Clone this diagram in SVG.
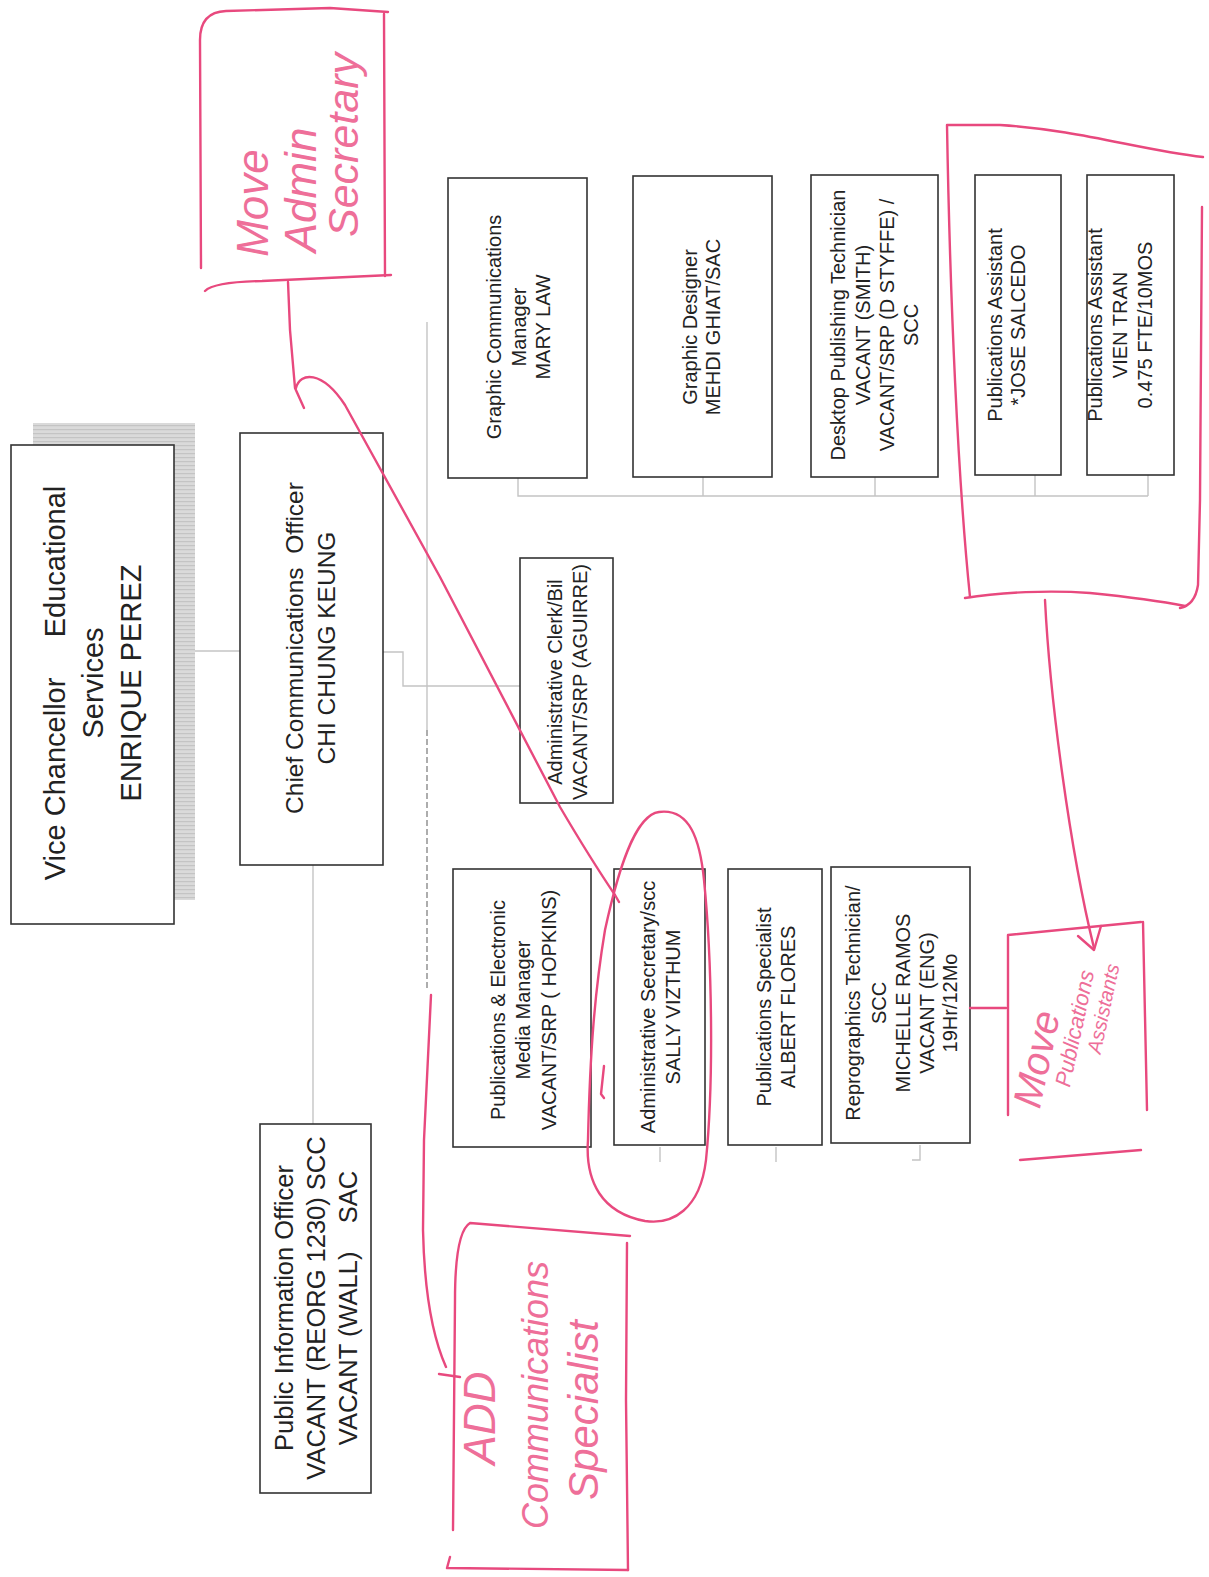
<svg xmlns="http://www.w3.org/2000/svg" width="1209" height="1577" viewBox="0 0 1209 1577">
<defs>
<pattern id="hatch" width="6" height="4" patternUnits="userSpaceOnUse">
<rect width="6" height="4" fill="#dadada"/>
<rect y="1" width="6" height="1.2" fill="#c4c4c4"/>
</pattern>
<style>
.box{fill:#fff;stroke:#333;stroke-width:1.6}
.t{font-family:"Liberation Sans",Arial,sans-serif;fill:#222;text-anchor:middle}
.con{fill:none;stroke:#c4c4c4;stroke-width:1.4}
.dash{fill:none;stroke:#777;stroke-width:1.2;stroke-dasharray:6 3}
.pk{fill:none;stroke:#e8497e;stroke-width:2.4;stroke-linecap:round;stroke-linejoin:round}
.hw{font-family:"Liberation Sans",Arial,sans-serif;font-style:italic;fill:#ee6f99;text-anchor:middle}
</style>
</defs>
<rect width="1209" height="1577" fill="#fff"/>

<g id="connectors">
<path class="con" d="M176,651 H240"/>
<path class="con" d="M383,652 H403 V686 H520"/>
<path class="con" d="M427,322 V730"/>
<path class="dash" d="M427,730 V990"/>
<path class="con" d="M313,865 V1124"/>
<path class="con" d="M518,478 V496 H1148 M703,477 V496 M875,477 V496 M1035,475 V496 M1148,475 V496"/>
<path class="con" d="M660,1147 V1162 M776,1147 V1162 M920,1145 V1160 H912"/>
</g>

<g id="vice-chancellor">
<rect x="33" y="423" width="162" height="477" fill="url(#hatch)"/>
<rect class="box" x="11" y="445" width="163" height="479"/>
<g transform="translate(0,683) rotate(-90)">
<text class="t" font-size="29" y="65" xml:space="preserve">Vice Chancellor     Educational</text>
<text class="t" font-size="29" y="103">Services</text>
<text class="t" font-size="29" y="141">ENRIQUE PEREZ</text>
</g>
</g>

<g id="chief-communications-officer">
<rect class="box" x="240" y="433" width="143" height="432"/>
<g transform="translate(0,648) rotate(-90)">
<text class="t" font-size="24.5" y="303" xml:space="preserve">Chief Communications  Officer</text>
<text class="t" font-size="24.5" y="335">CHI CHUNG KEUNG</text>
</g>
</g>

<g id="graphic-communications-manager">
<rect class="box" x="448" y="178" width="139" height="300"/>
<g transform="translate(0,327) rotate(-90)">
<text class="t" font-size="20" y="501">Graphic Communications</text>
<text class="t" font-size="20" y="526">Manager</text>
<text class="t" font-size="20" y="550">MARY LAW</text>
</g>
</g>

<g id="graphic-designer">
<rect class="box" x="633" y="176" width="139" height="301"/>
<g transform="translate(0,327) rotate(-90)">
<text class="t" font-size="20" y="697">Graphic Designer</text>
<text class="t" font-size="20" y="720">MEHDI GHIAT/SAC</text>
</g>
</g>

<g id="desktop-publishing-technician">
<rect class="box" x="811" y="175" width="127" height="302"/>
<g transform="translate(0,325) rotate(-90)">
<text class="t" font-size="20" y="845">Desktop Publishing Technician</text>
<text class="t" font-size="20" y="870">VACANT (SMITH)</text>
<text class="t" font-size="20" y="894">VACANT/SRP (D STYFFE) /</text>
<text class="t" font-size="20" y="918">SCC</text>
</g>
</g>

<g id="publications-assistant-1">
<rect class="box" x="975" y="175" width="86" height="300"/>
<g transform="translate(0,325) rotate(-90)">
<text class="t" font-size="20" y="1002">Publications Assistant</text>
<text class="t" font-size="20" y="1025">*JOSE SALCEDO</text>
</g>
</g>

<g id="publications-assistant-2">
<rect class="box" x="1087" y="175" width="87" height="300"/>
<g transform="translate(0,325) rotate(-90)">
<text class="t" font-size="20" y="1102">Publications Assistant</text>
<text class="t" font-size="20" y="1127">VIEN TRAN</text>
<text class="t" font-size="20" y="1152">0.475 FTE/10MOS</text>
</g>
</g>

<g id="administrative-clerk">
<rect class="box" x="520" y="558" width="93" height="245"/>
<g transform="translate(0,682) rotate(-90)">
<text class="t" font-size="20" y="562">Administrative Clerk/Bil</text>
<text class="t" font-size="20" y="587">VACANT/SRP (AGUIRRE)</text>
</g>
</g>

<g id="publications-electronic-media-manager">
<rect class="box" x="453" y="869" width="138" height="278"/>
<g transform="translate(0,1010) rotate(-90)">
<text class="t" font-size="20" y="505">Publications &amp; Electronic</text>
<text class="t" font-size="20" y="530">Media Manager</text>
<text class="t" font-size="20" y="556" xml:space="preserve">VACANT/SRP ( HOPKINS)</text>
</g>
</g>

<g id="administrative-secretary">
<rect class="box" x="614" y="869" width="91" height="276"/>
<g transform="translate(0,1007) rotate(-90)">
<text class="t" font-size="20" y="655">Administrative Secretary/scc</text>
<text class="t" font-size="20" y="680">SALLY VIZTHUM</text>
</g>
</g>

<g id="publications-specialist">
<rect class="box" x="728" y="869" width="94" height="276"/>
<g transform="translate(0,1007) rotate(-90)">
<text class="t" font-size="20" y="771">Publications Specialist</text>
<text class="t" font-size="20" y="795">ALBERT FLORES</text>
</g>
</g>

<g id="reprographics-technician">
<rect class="box" x="831" y="867" width="139" height="276"/>
<g transform="translate(0,1003) rotate(-90)">
<text class="t" font-size="20" y="860">Reprographics Technician/</text>
<text class="t" font-size="20" y="886">SCC</text>
<text class="t" font-size="20" y="910">MICHELLE RAMOS</text>
<text class="t" font-size="20" y="934">VACANT (ENG)</text>
<text class="t" font-size="20" y="957">19Hr/12Mo</text>
</g>
</g>

<g id="public-information-officer">
<rect class="box" x="260" y="1124" width="111" height="369"/>
<g transform="translate(0,1308) rotate(-90)">
<text class="t" font-size="25.5" y="293">Public Information Officer</text>
<text class="t" font-size="25.5" y="325">VACANT (REORG 1230) SCC</text>
<text class="t" font-size="25.5" y="357" xml:space="preserve">VACANT (WALL)    SAC</text>
</g>
</g>

<g id="annotation-move-admin-secretary">
<path class="pk" d="M201,268 L200,40 Q200,12 226,11 L330,8 L388,12"/>
<path class="pk" d="M384,14 L385,276"/>
<path class="pk" d="M205,291 Q214,282 262,281 L391,275"/>
<path class="pk" d="M288,282 L290,330 L295,388 L304,408"/>
<path class="pk" d="M296,388 C300,372 322,370 345,405 L440,577 L560,807 Q590,858 615,895 L619,902"/>
<g transform="rotate(-90)">
<text class="hw" font-size="44" x="-203" y="268">Move</text>
<text class="hw" font-size="44" x="-190" y="316">Admin</text>
<text class="hw" font-size="43" x="-145" y="358">Secretary</text>
</g>
</g>

<g id="annotation-circle-admin-secretary">
<path class="pk" d="M659,812 C690,808 700,840 704,880 C712,960 714,1080 706,1160 C700,1210 672,1225 645,1221 C602,1213 585,1182 588,1140 C590,1050 595,990 605,930 C618,870 635,815 659,812 Z"/>
<path class="pk" d="M604,1066 L601,1094 L604,1098"/>
</g>

<g id="annotation-add-communications-specialist">
<path class="pk" d="M431,995 L424,1140 L423,1230 Q425,1320 446,1367"/>
<path class="pk" d="M439,1374 L460,1377"/>
<path class="pk" d="M453,1530 L455,1300 Q455,1232 470,1223 L630,1236"/>
<path class="pk" d="M627,1243 L626,1400 L628,1570"/>
<path class="pk" d="M450,1557 L447,1568 L628,1570"/>
<g transform="rotate(-90)">
<text class="hw" font-size="44" x="-1418" y="495">ADD</text>
<text class="hw" font-size="36" x="-1395" y="548">Communications</text>
<text class="hw" font-size="42" x="-1410" y="598">Specialist</text>
</g>
</g>

<g id="annotation-publications-assistants">
<path class="pk" d="M970,597 C958,480 950,300 947,125 L1000,125 C1080,130 1140,150 1203,157"/>
<path class="pk" d="M1202,207 L1200,500 L1198,585 Q1195,605 1180,608"/>
<path class="pk" d="M965,598 C1000,592 1050,590 1090,593 C1140,598 1170,603 1185,606"/>
<path class="pk" d="M1045,600 C1050,700 1070,850 1094,948"/>
<path class="pk" d="M1078,936 L1094,950 L1101,926"/>
</g>

<g id="annotation-move-publications-assistants">
<path class="pk" d="M970,1008 L1006,1008"/>
<path class="pk" d="M1008,1115 L1008,935 L1141,922"/>
<path class="pk" d="M1143,922 L1147,1110"/>
<path class="pk" d="M1020,1160 L1141,1150"/>
<g transform="translate(1050,1062) rotate(-78)">
<text class="hw" font-size="40" x="0" y="0">Move</text>
</g>
<g transform="translate(1082,1030) rotate(-78)">
<text class="hw" font-size="22" x="0" y="0">Publications</text>
</g>
<g transform="translate(1110,1010) rotate(-78)">
<text class="hw" font-size="20" x="0" y="0">Assistants</text>
</g>
</g>
</svg>
